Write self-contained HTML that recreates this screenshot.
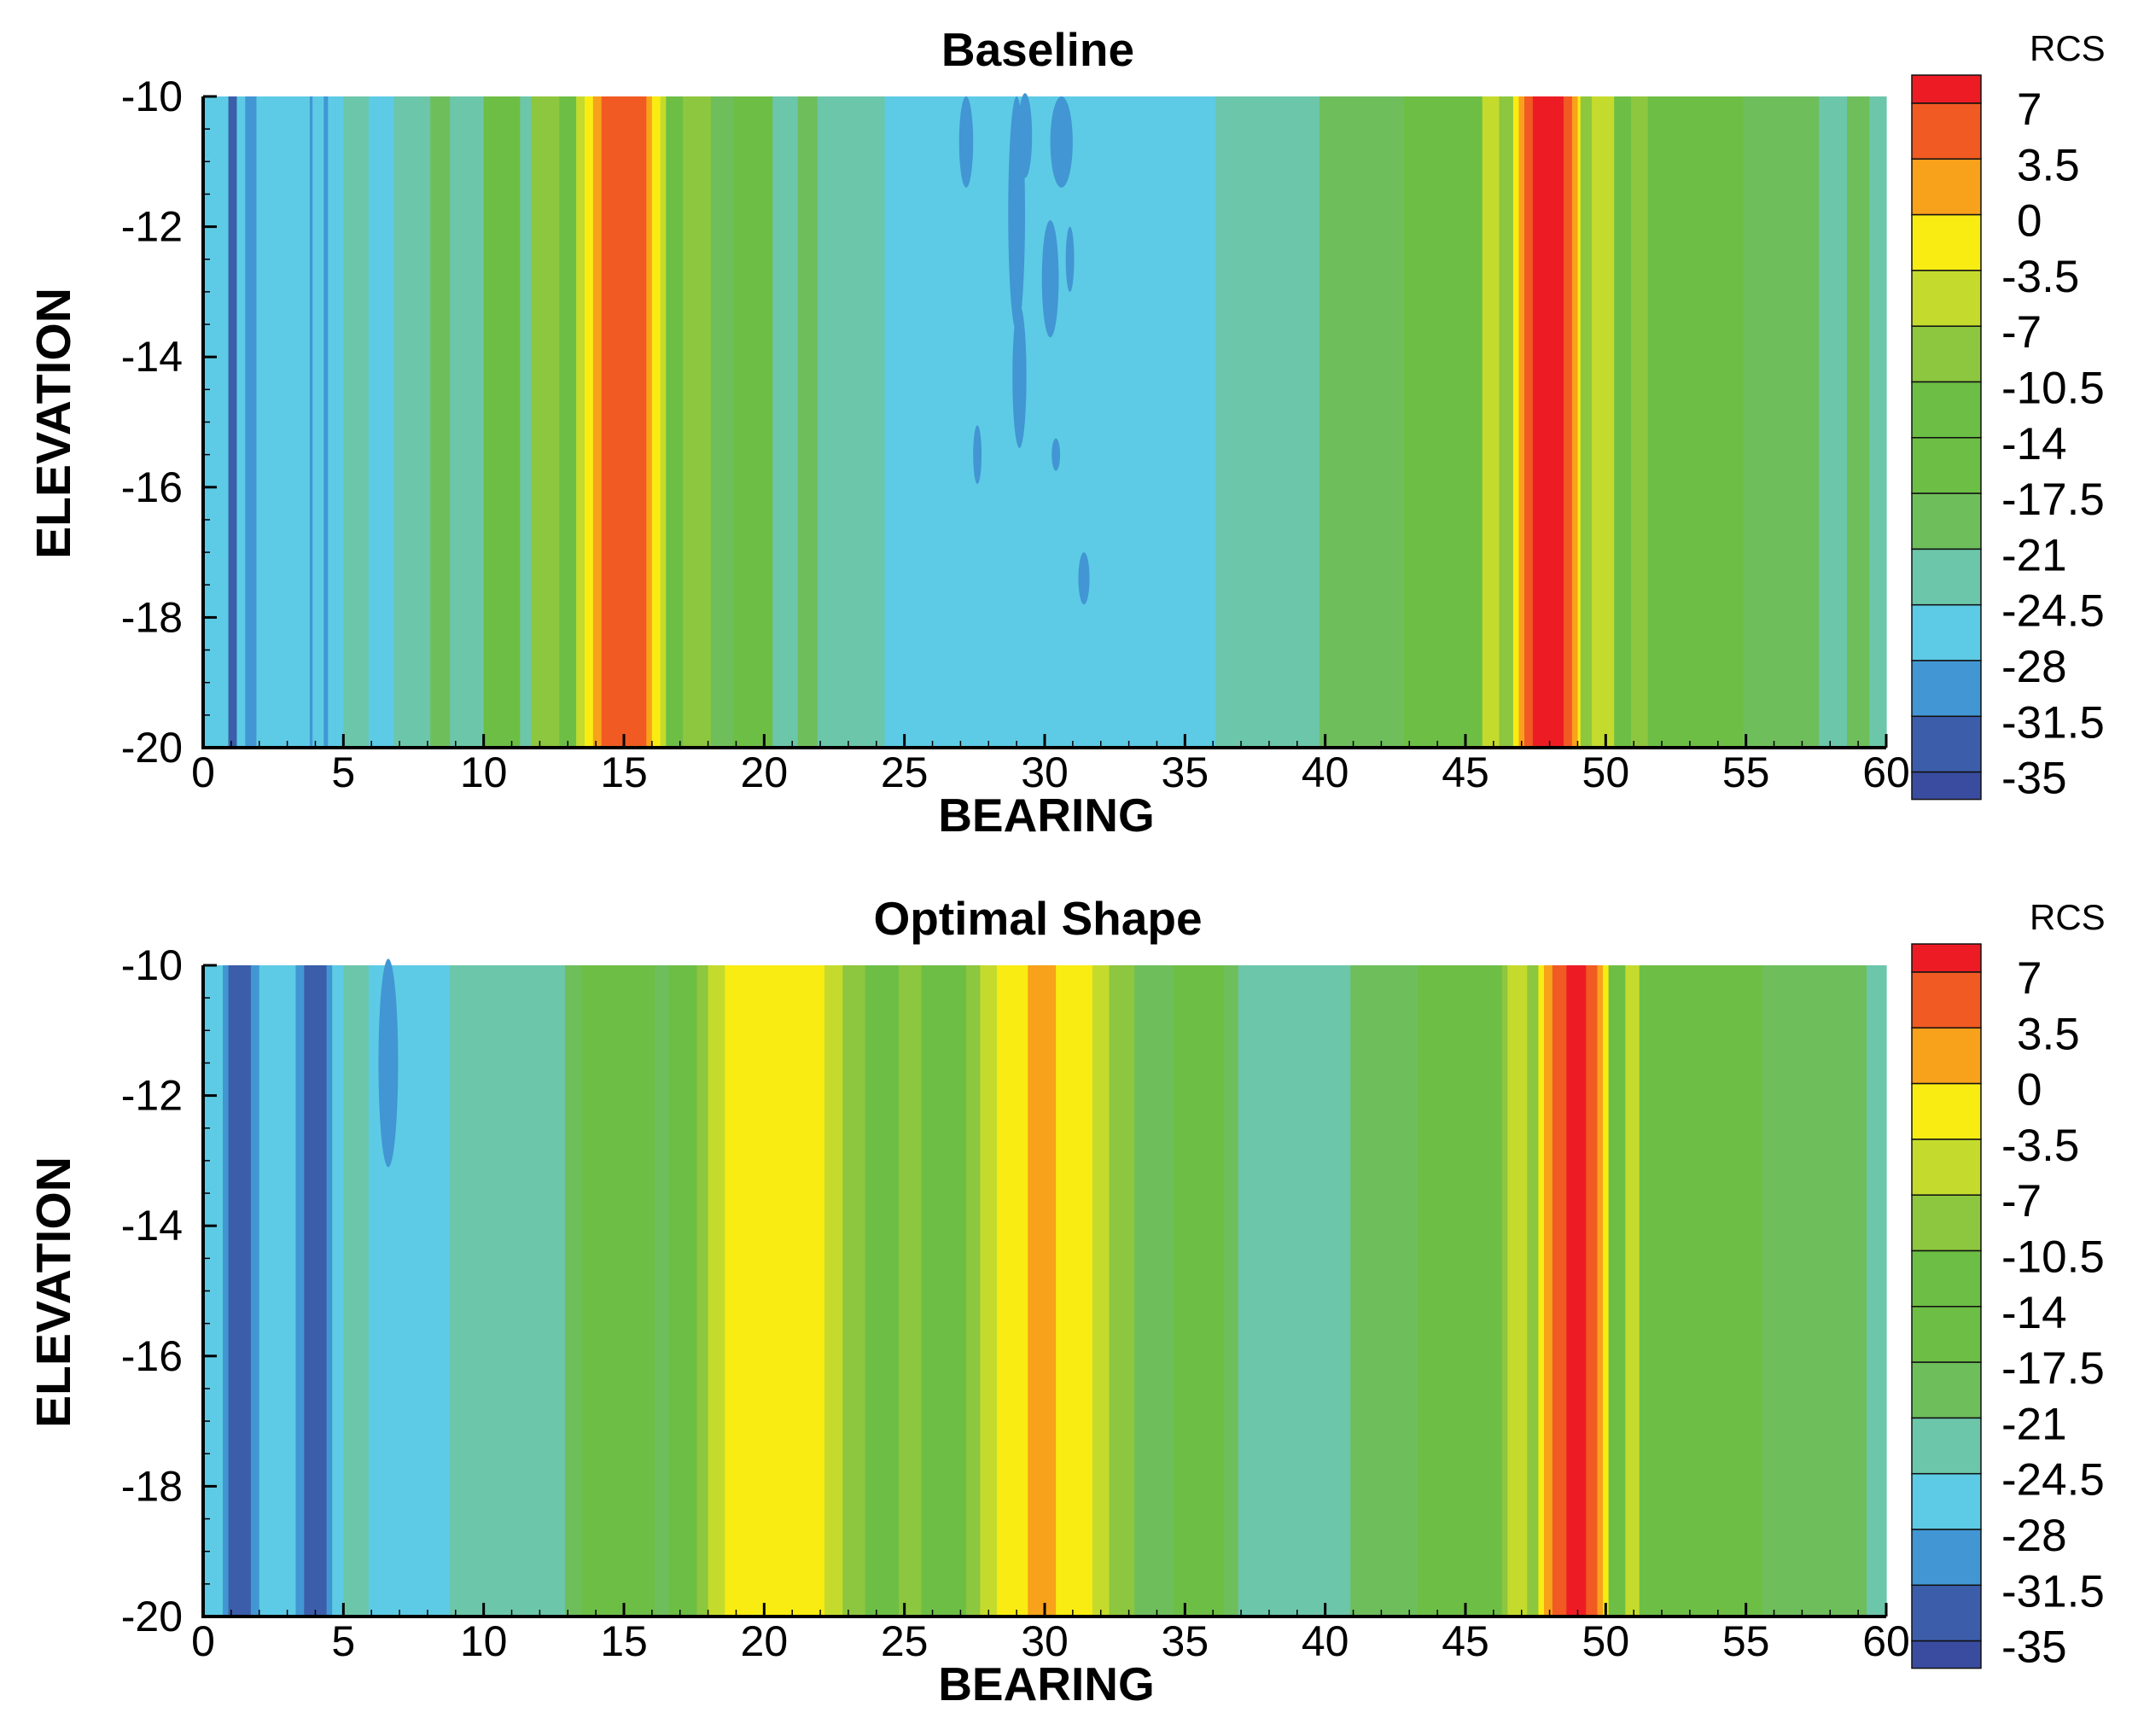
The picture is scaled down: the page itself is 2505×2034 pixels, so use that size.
<!DOCTYPE html>
<html><head><meta charset="utf-8"><style>
html,body{margin:0;padding:0;background:#fff}
svg{display:block}
text{font-family:"Liberation Sans",Arial,sans-serif;fill:#000}
</style></head><body>
<svg id="fig" width="2505" height="2034" viewBox="0 0 2505 2034" xmlns="http://www.w3.org/2000/svg"></svg>
<script>
// ---- data ----
const levels = [-35,-31.5,-28,-24.5,-21,-17.5,-14,-10.5,-7,-3.5,0,3.5,7];
const levelColors = ["#3A4C9F","#3C5DAA","#4296D3","#5DCBE5","#6CC6AA","#6EBE5C","#6DBE45","#6DBE45","#8DC63F","#C4DB2E","#F9EC13","#F8A11B","#F15A22","#ED1C24"];
const xTicks = [0,5,10,15,20,25,30,35,40,45,50,55,60];
const yTicks = [-10,-12,-14,-16,-18,-20];

const baselineBearings = [0,0.9,1.2,1.5,1.9,3.8,3.9,4.3,4.45,5,5.9,6.8,8.1,8.8,10,11.3,11.7,12.7,13.3,13.6,13.9,14.2,15.8,16.0,16.3,16.5,17.1,18.1,18.9,20.3,21.2,21.9,24.3,36.1,39.8,42.8,45.6,46.2,46.7,46.9,47.1,47.4,48.5,48.8,49,49.1,49.5,50.3,50.9,51.5,54.9,57.6,58.6,59.4];
const baselineRCS = [-26,-33,-26,-30,-26,-30,-26,-30,-26,-23,-25,-22,-19,-22,-16,-22,-9,-15,-5,-2,2,5,2,-2,-5,-16,-9,-19,-16,-22,-19,-22,-26,-22,-19,-16,-5,-9,-2,2,5,9,5,2,-2,-9,-5,-16,-9,-16,-19,-22,-19,-22];
// blobs: bearing, elevation, width(deg), height(deg), rcs
const baselineBlobB = [27.2,29.0,29.3,30.6,30.2,29.1,27.6,31.4,30.9,30.4];
const baselineBlobE = [-10.7,-11.8,-10.6,-10.7,-12.8,-14.3,-15.5,-17.4,-12.5,-15.5];
const baselineBlobW = [0.5,0.6,0.5,0.8,0.6,0.5,0.3,0.4,0.3,0.3];
const baselineBlobH = [1.4,3.6,1.3,1.4,1.8,2.2,0.9,0.8,1.0,0.5];
const baselineBlobV = [-30,-30,-30,-30,-30,-30,-30,-30,-30,-30];

const optimalBearings = [0,0.7,0.9,1.7,2.0,3.3,3.6,4.4,4.6,5.0,5.9,8.8,12.9,13.5,16.1,16.6,17.6,18.0,18.6,22.15,22.8,23.6,24.8,25.6,27.2,27.7,28.3,29.4,30.4,31.7,32.3,33.2,34.6,36.4,36.9,40.9,43.3,46.3,46.5,47.2,47.6,47.8,48.1,48.6,49.3,49.7,49.9,50.1,50.7,51.2,55.6,59.3];
const optimalRCS = [-26,-30,-33,-30,-26,-30,-33,-30,-26,-22,-26,-22,-19,-16,-19,-16,-9,-5,-2,-5,-9,-16,-9,-16,-9,-5,-2,2,-2,-5,-9,-19,-16,-19,-22,-19,-16,-9,-5,-9,-2,2,5,9,5,2,-2,-16,-5,-16,-19,-22];
const optimalBlobB = [6.6];
const optimalBlobE = [-11.5];
const optimalBlobW = [0.7];
const optimalBlobH = [3.2];
const optimalBlobV = [-30];

// ---- drawing ----
const NS = "http://www.w3.org/2000/svg";
const svg = document.getElementById('fig');
function mk(tag, attrs, parent){
  const e = document.createElementNS(NS, tag);
  for (const k in attrs) e.setAttribute(k, attrs[k]);
  (parent||svg).appendChild(e);
  return e;
}
function colorFor(v){ let i=0; while(i<levels.length && v>=levels[i]) i++; return levelColors[i]; }

const PL=238, PR=2210;
function drawPanel(off, title, bearings, vals, bB, bE, bW, bH, bV, key){
  const PT=113+off, PB=876+off;
  const xs = b => PL + (b/60)*(PR-PL);
  const ys = e => PT + ((-10 - e)/10)*(PB-PT);
  const g = mk('g', {});
  
  
  const cg = mk('g', {}, g);
  
  
  for (let i=0;i<bearings.length;i++){
    const b0=bearings[i], b1 = i+1<bearings.length?bearings[i+1]:60;
    const r = mk('rect', {x:xs(b0), y:PT, width:xs(b1)-xs(b0)+0.6, height:PB-PT, fill:colorFor(vals[i])}, cg);
    
    
  }
  for (let i=0;i<bB.length;i++){
    const el = mk('ellipse', {cx:xs(bB[i]), cy:ys(bE[i]), rx:(xs(bW[i])-xs(0))/2, ry:(ys(-10-bH[i])-ys(-10))/2, fill:colorFor(bV[i])}, cg);
    
    
  }
  const ax = mk('path', {d:`M${PL} ${PT}V${PB}H${PR}`, stroke:'#000', 'stroke-width':4, fill:'none'}, g);
  
  
  for (let b=0;b<=60;b++){
    const maj = b%5===0;
    mk('line',{x1:xs(b),x2:xs(b),y1:PB,y2:PB-(maj?16:8),stroke:'#000','stroke-width':maj?3:1.5},g);
  }
  for (let e=-10;e>=-20;e-=0.5){
    const maj = Math.abs(e%2)<1e-6;
    mk('line',{x1:PL,x2:PL+(maj?16:8),y1:ys(e),y2:ys(e),stroke:'#000','stroke-width':maj?3:1.5},g);
  }
  xTicks.forEach(t=>{
    const tx = mk('text',{x:xs(t),y:PB+46,'font-size':50,'text-anchor':'middle'},g);
    tx.textContent = t;
    
    
  });
  yTicks.forEach(t=>{
    const tx = mk('text',{x:214,y:ys(t)+17,'font-size':50,'text-anchor':'end'},g);
    tx.textContent = t;
    
    
  });
  const tt = mk('text',{x:1216,y:77+off,'font-size':55,'font-weight':'bold','text-anchor':'middle'},g);
  tt.textContent = title;
  
  
  const xt = mk('text',{x:1226,y:974+off,'font-size':55,'font-weight':'bold','text-anchor':'middle'},g);
  xt.textContent = 'BEARING';
  
  
  const yt = mk('text',{x:0,y:0,'font-size':57,'font-weight':'bold','text-anchor':'middle',transform:`translate(82 ${496+off}) rotate(-90)`},g);
  yt.textContent = 'ELEVATION';
  
  

  const cb = mk('g',{},g);
  
  
  const CX=2240, CW=81, top=88+off, step=65.3, half=33;
  const edges=[top];
  edges.push(top+half);
  for (let i=1;i<=12;i++) edges.push(top+half+i*step);
  edges.push(top+half+12*step+32);
  for (let k=0;k<14;k++){
    const r = mk('rect',{x:CX,y:edges[k],width:CW,height:edges[k+1]-edges[k],fill:levelColors[13-k],stroke:'#111','stroke-width':1.5},cb);
    
    
  }
  for (let k=1;k<=13;k++){
    const v = levels[13-k];
    const t = mk('text',{x: v<0?2345:2363, y:edges[k]+25,'font-size':53},cb);
    t.textContent = v;
    
    
  }
  const rc = mk('text',{x:2378,y:71+off,'font-size':42},cb);
  rc.textContent = 'RCS';
  
  
}
drawPanel(0,'Baseline',baselineBearings,baselineRCS,baselineBlobB,baselineBlobE,baselineBlobW,baselineBlobH,baselineBlobV,'baseline');
drawPanel(1018,'Optimal Shape',optimalBearings,optimalRCS,optimalBlobB,optimalBlobE,optimalBlobW,optimalBlobH,optimalBlobV,'optimal');
</script>
</body></html>
